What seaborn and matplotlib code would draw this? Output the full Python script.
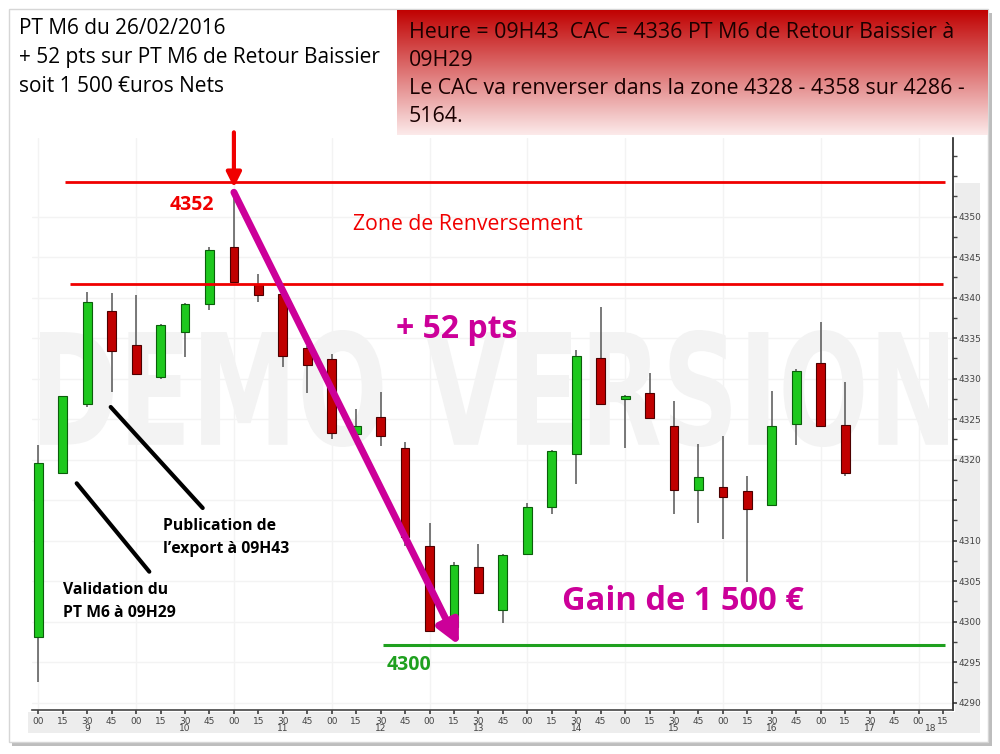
import numpy as np
import pandas as pd
import matplotlib
matplotlib.use("Agg")
import matplotlib.pyplot as plt
from matplotlib.patches import Rectangle, PathPatch
from matplotlib.lines import Line2D
from matplotlib.textpath import TextPath
from matplotlib.font_manager import FontProperties
from matplotlib.transforms import Affine2D
import seaborn as sns

sns.set_theme(style="white")
plt.rcParams['font.family'] = ['Open Sans', 'DejaVu Sans']

# bougies 15 min du CAC, 09h00 -> 17h15
opens  = [4298.1, 4318.3, 4326.9, 4338.4, 4334.1, 4330.2, 4335.7, 4339.2, 4346.2, 4341.7,
          4340.5, 4333.8, 4332.4, 4323.2, 4325.3, 4321.4, 4309.3, 4299.3, 4306.7, 4301.4,
          4308.4, 4314.2, 4320.7, 4332.6, 4327.5, 4328.2, 4324.2, 4316.3, 4316.6, 4316.1,
          4314.4, 4324.4, 4331.9, 4324.3]
highs  = [4321.8, 4327.9, 4340.7, 4340.6, 4340.3, 4336.8, 4339.3, 4346.2, 4353.0, 4342.9,
          4340.6, 4334.0, 4333.0, 4326.3, 4328.3, 4322.2, 4312.2, 4307.4, 4309.6, 4308.3,
          4314.7, 4321.2, 4333.5, 4338.9, 4328.0, 4330.7, 4327.3, 4321.9, 4322.9, 4318.0,
          4328.5, 4331.2, 4337.0, 4329.6]
lows   = [4292.6, 4318.2, 4326.5, 4328.4, 4330.5, 4330.0, 4332.7, 4338.5, 4341.8, 4339.5,
          4331.4, 4328.2, 4322.6, 4323.0, 4321.7, 4309.3, 4298.8, 4299.0, 4303.5, 4299.8,
          4308.3, 4313.3, 4317.0, 4326.8, 4321.4, 4325.0, 4313.3, 4312.2, 4310.2, 4304.9,
          4314.3, 4321.8, 4324.0, 4318.0]
closes = [4319.6, 4327.8, 4339.5, 4333.4, 4330.6, 4336.6, 4339.2, 4345.9, 4341.9, 4340.3,
          4332.8, 4331.7, 4323.3, 4324.1, 4322.9, 4310.5, 4298.9, 4307.0, 4303.6, 4308.2,
          4314.1, 4321.1, 4332.8, 4326.9, 4327.9, 4325.1, 4316.2, 4317.9, 4315.4, 4313.9,
          4324.2, 4331.0, 4324.1, 4318.3]

minute_labels = ["00", "15", "30", "45"] * 9 + ["00", "15"]
hour_labels = ["9", "10", "11", "12", "13", "14", "15", "16", "17", "18"]
price_ticks = list(range(4290, 4355, 5))
price_labels = [str(p) if p != 4315 else "" for p in price_ticks]

zone_top = 4354.3
zone_bottom = 4341.7
target_level = 4297.1
top_price = 4353.0

df = pd.DataFrame({"open": opens, "high": highs, "low": lows, "close": closes})
df["t"] = np.arange(len(df))
df["up"] = df["close"] >= df["open"]

W, H = 1000, 754
def fx(x):
    return x / W
def fy(y):
    return 1 - y / H

fig = plt.figure(figsize=(10, 7.54), dpi=100, facecolor="white")

# cadre avec ombre
fig.add_artist(Rectangle((fx(12), fy(746)), fx(980), (742 - 9) / H, transform=fig.transFigure,
                         fc="#bdbdbd", ec="none", zorder=-6))
fig.add_artist(Rectangle((fx(9), fy(742)), fx(979), (742 - 9) / H, transform=fig.transFigure,
                         fc="white", ec="#d6d6d6", lw=1, zorder=-5))
# bandes grises des libelles d'axes
fig.add_artist(Rectangle((fx(28), fy(733)), fx(952), 21 / H, transform=fig.transFigure,
                         fc="#ededed", ec="none", zorder=-2))
fig.add_artist(Rectangle((fx(955), fy(430)), fx(25), 247 / H, transform=fig.transFigure,
                         fc="#ededed", ec="none", zorder=-2))
fig.add_artist(Rectangle((fx(955), fy(733)), fx(25), 278 / H, transform=fig.transFigure,
                         fc="#ededed", ec="none", zorder=-2))

# filigrane
tp = TextPath((0, 0), "DEMO VERSION", size=1, prop=FontProperties(family="DejaVu Sans", weight="bold"))
bb = tp.get_extents()
x0, x1, y0, y1 = fx(40), fx(948), fy(447), fy(330)
tr = Affine2D().translate(-bb.x0, -bb.y0).scale((x1 - x0) / bb.width, (y1 - y0) / bb.height).translate(x0, y0)
fig.add_artist(PathPatch(tp, transform=tr + fig.transFigure, fc="#f3f3f3", ec="none", zorder=-1))

ax = fig.add_axes([fx(31.7), fy(710), fx(953 - 31.7), (710 - 138) / H])
ax.set_facecolor("none")

# grille discrete
for p in price_ticks:
    ax.axhline(p, color="#f3f3f3", lw=1, zorder=0)
for t in range(0, 38, 4):
    ax.axvline(t, color="#f3f3f3", lw=1, zorder=0)

# meches
ax.vlines(df["t"], df["low"], df["high"], color="#555555", lw=1.1, zorder=2)
# corps
body_lo = df[["open", "close"]].min(axis=1)
body_h = (df["close"] - df["open"]).abs().clip(lower=0.35)
ax.bar(df["t"], body_h, bottom=body_lo, width=0.36,
       color=np.where(df["up"], "#1ec81e", "#c00000"),
       edgecolor=np.where(df["up"], "#0b5e0b", "#4d0000"), linewidth=0.8, zorder=3)

# niveaux
ax.hlines(zone_top, 1.09, 37.08, color="#f00000", lw=2, zorder=4)
ax.hlines(zone_bottom, 1.3, 37.0, color="#f00000", lw=2, zorder=4)
ax.hlines(target_level, 14.1, 37.1, color="#1fa01f", lw=2.2, zorder=4)

# fleche magenta
ax.annotate("", xy=(17.2, target_level), xytext=(8.0, top_price),
            arrowprops=dict(arrowstyle="-|>", color="#cc0099", lw=5, mutation_scale=34,
                            shrinkA=0, shrinkB=0), zorder=6)
# fleche rouge
ax.annotate("", xy=(8.0, 4353.6), xytext=(8.0, 4360.4), annotation_clip=False,
            arrowprops=dict(arrowstyle="-|>", color="#f00000", lw=3, mutation_scale=22,
                            shrinkA=0, shrinkB=0), zorder=6)

ax.set_xlim(-0.27, 37.41)
ax.set_ylim(4289.1, 4359.7)
for s in ["left", "top"]:
    ax.spines[s].set_visible(False)
ax.spines["right"].set_color("#222222")
ax.spines["bottom"].set_color("#444444")
ax.spines["right"].set_linewidth(1.2)
ax.spines["bottom"].set_linewidth(1.2)

ax.set_xticks(range(len(minute_labels)))
ax.set_xticklabels(minute_labels, fontsize=6.5, color="#444444", family="DejaVu Sans")
ax.tick_params(axis="x", direction="out", length=3, pad=2, color="#444444", bottom=True)
ax.yaxis.tick_right()
ax.set_yticks(price_ticks)
ax.set_yticklabels(price_labels, fontsize=6.5, color="#444444", family="DejaVu Sans")
ax.set_yticks(np.arange(4290, 4360, 2.5), minor=True)
ax.tick_params(axis="y", which="both", direction="out", length=3, pad=1, color="#444444", right=True)
ax.grid(False)

for i, h in enumerate(hour_labels):
    pos = min(4 * i + 2, len(minute_labels) - 1.5)
    ax.text(pos, -0.033, h, transform=ax.get_xaxis_transform(), ha="center", va="center",
            fontsize=6.5, color="#444444", family="DejaVu Sans")

# encadre rouge en degrade
bx = fig.add_axes([fx(397), fy(135), fx(988 - 397), (135 - 10) / H])
grad = np.linspace(0, 1, 200)[:, None]
top_c = np.array([192, 0, 0]) / 255
bot_c = np.array([252, 234, 234]) / 255
img = (top_c[None, None, :] * (1 - grad[:, :, None]) + bot_c[None, None, :] * grad[:, :, None])
bx.imshow(img, aspect="auto", extent=[0, 1, 0, 1])
bx.axis("off")

box_lines = ["Heure = 09H43  CAC = 4336 PT M6 de Retour Baissier à",
             "09H29",
             "Le CAC va renverser dans la zone 4328 - 4358 sur 4286 -",
             "5164."]
for yy, line in zip([33, 60, 89, 117], box_lines):
    fig.text(fx(409), fy(yy), line, fontsize=15.4, color="#1a0000", va="center", ha="left")

title_lines = ["PT M6 du 26/02/2016",
               "+ 52 pts sur PT M6 de Retour Baissier",
               "soit 1 500 €uros Nets"]
for yy, line in zip([29, 58, 87], title_lines):
    fig.text(fx(19), fy(yy), line, fontsize=15, color="black", va="center", ha="left")

# annotations
fig.text(fx(192), fy(205), "4352", fontsize=14, color="#f00000", weight="bold", ha="center", va="center")
fig.text(fx(468), fy(225), "Zone de Renversement", fontsize=15.3, color="#f00000", ha="center", va="center")
fig.text(fx(457), fy(330), "+ 52 pts", fontsize=23, color="#cc0099", weight="bold", ha="center", va="center")
fig.text(fx(683), fy(602), "Gain de 1 500 €", fontsize=23.5, color="#cc0099", weight="bold", ha="center", va="center")
fig.text(fx(409), fy(665), "4300", fontsize=14, color="#1fa01f", weight="bold", ha="center", va="center")

fig.text(fx(163), fy(526), "Publication de", fontsize=11.3, color="black", weight="bold", ha="left", va="center")
fig.text(fx(163), fy(549), "l\u2019export à 09H43", fontsize=11.3, color="black", weight="bold", ha="left", va="center")
fig.text(fx(63), fy(590), "Validation du", fontsize=11.3, color="black", weight="bold", ha="left", va="center")
fig.text(fx(63), fy(613), "PT M6 à 09H29", fontsize=11.3, color="black", weight="bold", ha="left", va="center")

fig.add_artist(Line2D([fx(110.7), fx(202.7)], [fy(407), fy(508)], transform=fig.transFigure,
                      color="black", lw=3, zorder=5))
fig.add_artist(Line2D([fx(76.7), fx(149.3)], [fy(483.3), fy(571.7)], transform=fig.transFigure,
                      color="black", lw=3, zorder=5))

plt.savefig("out.png", dpi=100)
